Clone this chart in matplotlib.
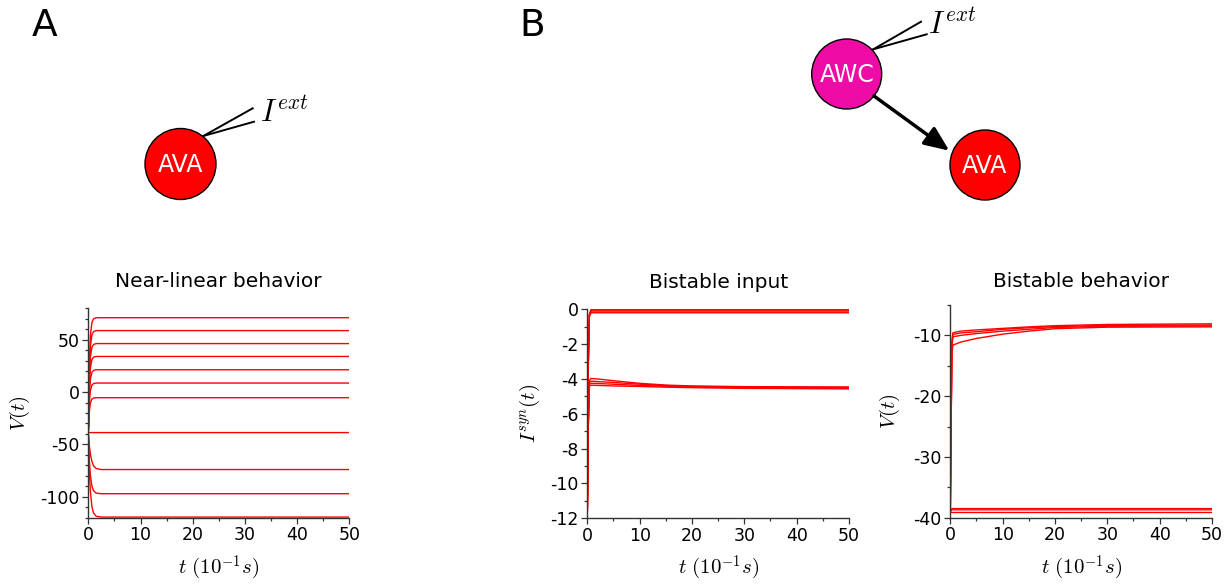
import matplotlib
matplotlib.use("Agg")
import matplotlib.pyplot as plt
from matplotlib.patches import Circle, FancyArrowPatch
from matplotlib.ticker import MultipleLocator

plt.rcParams['font.family'] = ['DejaVu Sans']
plt.rcParams['mathtext.fontset'] = 'cm'
plt.rcParams['axes.unicode_minus'] = False

# ---------------- data ----------------
# Panel A: near-linear behavior (V over time, several input levels)
tA = [0, 0.2, 0.4, 0.7, 1.0, 1.5, 2.5, 50]
vA_1 = [-39, 27.0, 54.5, 66.6, 69.9, 71.0, 71.0, 71.0]
vA_2 = [-39, 19.6, 44.0, 54.8, 57.7, 58.7, 58.7, 58.7]
vA_3 = [-39, 12.2, 33.5, 42.9, 45.4, 46.3, 46.3, 46.3]
vA_4 = [-39, 4.8, 23.1, 31.1, 33.3, 34.0, 34.0, 34.0]
vA_5 = [-39, -2.8, 12.3, 18.9, 20.7, 21.3, 21.3, 21.3]
vA_6 = [-39, -10.4, 1.5, 6.7, 8.1, 8.6, 8.6, 8.6]
vA_7 = [-39, -18.8, -10.4, -6.7, -5.7, -5.4, -5.4, -5.4]
vA_8 = [-39, -38.8, -38.7, -38.7, -38.7, -38.7, -38.7, -38.7]
vA_9 = [-39, -51.3, -59.3, -66.3, -70.5, -73.0, -74.0, -74.0]
vA_10 = [-39, -65.1, -79.7, -90.1, -94.2, -96.5, -97.1, -97.1]
vA_11 = [-39, -75.2, -95.3, -109.8, -115.4, -118.6, -119.4, -119.4]
seriesA = [vA_1, vA_2, vA_3, vA_4, vA_5, vA_6, vA_7, vA_8, vA_9, vA_10, vA_11]

# Panel B1: bistable input I_syn(t)
tB1 = [0, 0.2, 0.4, 0.7, 2, 5, 10, 15, 20, 30, 50]
iB_1 = [-11.7, -3.0, -0.3, -0.02, -0.02, -0.02, -0.02, -0.02, -0.02, -0.02, -0.02]
iB_2 = [-11.7, -3.0, -0.3, -0.05, -0.05, -0.05, -0.05, -0.05, -0.05, -0.05, -0.05]
iB_3 = [-11.7, -3.0, -0.35, -0.15, -0.15, -0.15, -0.15, -0.15, -0.15, -0.15, -0.15]
iB_4 = [-11.7, -3.0, -0.4, -0.2, -0.2, -0.2, -0.2, -0.2, -0.2, -0.2, -0.2]
iB_5 = [-11.7, -6.5, -4.1, -3.97, -4.0, -4.1, -4.25, -4.35, -4.4, -4.44, -4.46]
iB_6 = [-11.7, -6.5, -4.2, -4.13, -4.15, -4.2, -4.3, -4.38, -4.43, -4.47, -4.49]
iB_7 = [-11.7, -6.5, -4.3, -4.25, -4.26, -4.3, -4.37, -4.42, -4.46, -4.5, -4.53]
iB_8 = [-11.7, -6.5, -4.4, -4.36, -4.37, -4.4, -4.43, -4.47, -4.5, -4.54, -4.57]
seriesB1 = [iB_1, iB_2, iB_3, iB_4, iB_5, iB_6, iB_7, iB_8]

# Panel B2: bistable behavior V(t)
tB2 = [0, 0.3, 0.5, 2, 5, 10, 15, 20, 30, 50]
vB_1 = [-39, -11.0, -9.57, -9.3, -9.1, -8.85, -8.6, -8.4, -8.2, -8.1]
vB_2 = [-39, -11.5, -9.84, -9.6, -9.4, -9.0, -8.75, -8.55, -8.35, -8.3]
vB_3 = [-39, -12.0, -10.23, -10.0, -9.7, -9.3, -9.0, -8.7, -8.5, -8.45]
vB_4 = [-39, -13.0, -11.6, -11.1, -10.5, -9.8, -9.3, -8.9, -8.65, -8.6]
vB_5 = [-39, -38.5, -38.5, -38.5, -38.5, -38.5, -38.5, -38.5, -38.5, -38.5]
vB_6 = [-39, -38.7, -38.7, -38.7, -38.7, -38.7, -38.7, -38.7, -38.7, -38.7]
vB_7 = [-39, -39.0, -39.0, -39.0, -39.0, -39.0, -39.0, -39.0, -39.0, -39.0]
seriesB2 = [vB_1, vB_2, vB_3, vB_4, vB_5, vB_6, vB_7]

titles = ["Near-linear behavior", "Bistable input", "Bistable behavior"]
xlabel = r'$t\ (10^{-1}s)$'
ylabels = [r'$V(t)$', r'$I^{syn}(t)$', r'$V(t)$']

# ---------------- figure ----------------
W, H = 1228, 585
fig = plt.figure(figsize=(W / 100, H / 100), dpi=100)

def px_axes(left, right, top, bottom):
    return fig.add_axes([left / W, 1 - bottom / H, (right - left) / W, (bottom - top) / H])

axA = px_axes(88.3, 349.3, 308.3, 517.7)
axB1 = px_axes(587.3, 849.0, 309.3, 518.3)
axB2 = px_axes(950.3, 1212.0, 305.0, 517.7)

spine_col = '#333333'

def style(ax, ylim, ymaj, ymin, title, ylabel, pad, ylab_x):
    ax.set_xlim(0, 50)
    ax.set_ylim(*ylim)
    ax.xaxis.set_major_locator(MultipleLocator(10))
    ax.xaxis.set_minor_locator(MultipleLocator(5))
    ax.yaxis.set_major_locator(MultipleLocator(ymaj))
    ax.yaxis.set_minor_locator(MultipleLocator(ymin))
    for s in ['top', 'right']:
        ax.spines[s].set_visible(False)
    for s in ['left', 'bottom']:
        ax.spines[s].set_color(spine_col)
        ax.spines[s].set_linewidth(1.0)
    ax.tick_params(which='major', direction='out', length=4.3, width=0.9,
                   color=spine_col, labelsize=12.5, pad=2)
    ax.tick_params(which='minor', direction='out', length=2.2, width=0.9, color=spine_col)
    ax.set_title(title, fontsize=14.5, pad=pad)
    ax.set_xlabel(xlabel, fontsize=15)
    ax.set_ylabel(ylabel, fontsize=15)
    ax.xaxis.set_label_coords(0.5, -0.17)
    ax.yaxis.set_label_coords(ylab_x, 0.5)

for v in seriesA:
    axA.plot(tA, v, color='#ff0000', lw=1.0)
for v in seriesB1:
    axB1.plot(tB1, v, color='#ff0000', lw=1.0)
for v in seriesB2:
    axB2.plot(tB2, v, color='#ff0000', lw=1.0)

style(axA, (-120, 80), 50, 10, titles[0], ylabels[0], 15, -0.216)
style(axB1, (-12, 0), 2, 1, titles[1], ylabels[1], 15.5, -0.173)
style(axB2, (-40, -5), 10, 5, titles[2], ylabels[2], 12.8, -0.185)

# ---------------- diagrams ----------------
ov = fig.add_axes([0, 0, 1, 1], zorder=-1)
ov.set_xlim(0, W)
ov.set_ylim(H, 0)
ov.axis('off')

fig.text(32 / W, 1 - 36 / H, 'A', fontsize=27, ha='left', va='baseline')
fig.text(519 / W, 1 - 36 / H, 'B', fontsize=27, ha='left', va='baseline')

# Panel A neuron
ov.add_patch(Circle((180.5, 164), 35.5, facecolor='#ff0000', edgecolor='black', lw=1.0))
ov.text(180.5, 165, 'AVA', color='white', fontsize=17, ha='center', va='center')
ov.plot([203.3, 252.7], [136, 108.3], color='black', lw=1.4)
ov.plot([203.3, 254.0], [136, 121.7], color='black', lw=1.4)
ov.text(260, 122, r'$I^{ext}$', fontsize=22, ha='left', va='baseline')

# Panel B neurons
ov.add_patch(Circle((846.7, 74), 35, facecolor='#ee0ba6', edgecolor='black', lw=1.0))
ov.text(846.7, 75, 'AWC', color='white', fontsize=17, ha='center', va='center')
ov.add_patch(Circle((985, 165), 35, facecolor='#ff0000', edgecolor='black', lw=1.0))
ov.text(985, 166, 'AVA', color='white', fontsize=17, ha='center', va='center')
ov.plot([873.3, 921.0], [49.3, 21.7], color='black', lw=1.4)
ov.plot([873.3, 926.7], [49.3, 34.3], color='black', lw=1.4)
ov.text(928, 34, r'$I^{ext}$', fontsize=22, ha='left', va='baseline')
ov.add_patch(FancyArrowPatch((874, 96), (949.3, 150.7),
                             arrowstyle='-|>,head_length=0.75,head_width=0.32',
                             mutation_scale=20, lw=2.5, color='black',
                             shrinkA=0, shrinkB=0))

fig.savefig('out.png', dpi=100)
